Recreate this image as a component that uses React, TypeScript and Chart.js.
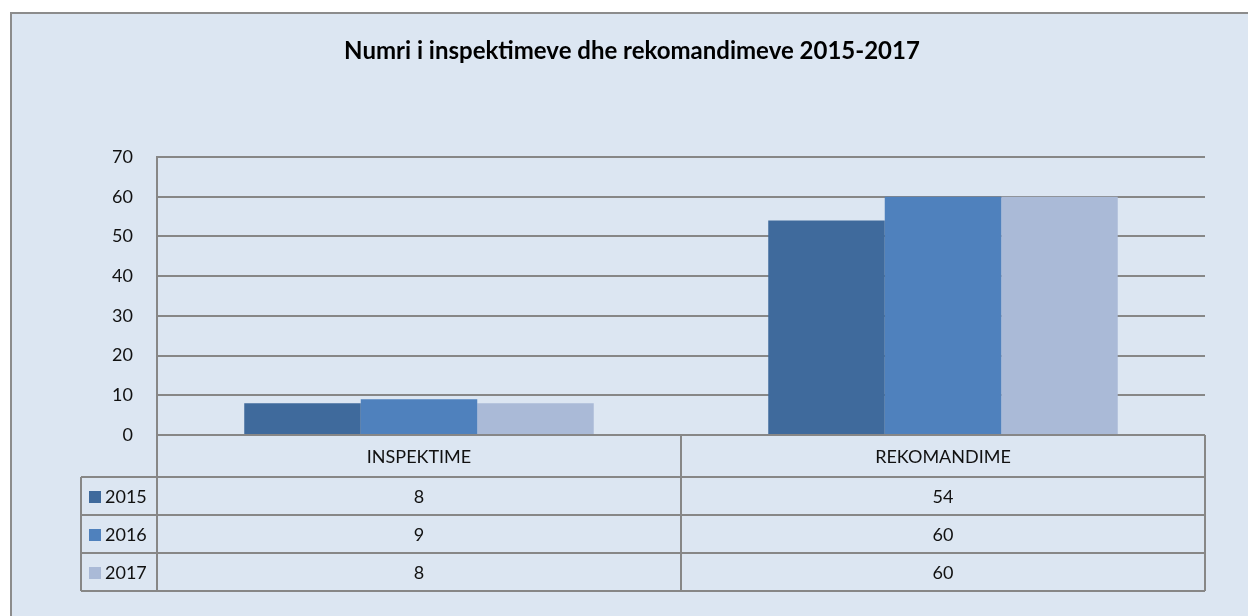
import React, { useEffect, useRef } from "react";
import { Chart, registerables } from "chart.js";

Chart.register(...registerables);

const titleText = "Numri i inspektimeve dhe rekomandimeve 2015-2017";
const categories = ["INSPEKTIME", "REKOMANDIME"];
const seriesLabels = ["2015", "2016", "2017"];
const values2015 = [8, 54];
const values2016 = [9, 60];
const values2017 = [8, 60];
const seriesValues = [values2015, values2016, values2017];
const seriesColors = ["#3f6a9c", "#4f81bd", "#aabad7"];
const yMin = 0;
const yMax = 70;
const yStep = 10;

const W = 1248;
const H = 616;
const BG = "#dce6f2";
const LINE = "#878787";
const FONT = "Lato, 'Open Sans', sans-serif";

const backgroundPlugin = {
  id: "bgFrame",
  beforeDraw(chart: any) {
    const ctx = chart.ctx;
    ctx.save();
    ctx.fillStyle = "#ffffff";
    ctx.fillRect(0, 0, chart.width, chart.height);
    ctx.fillStyle = BG;
    ctx.fillRect(10, 12, chart.width - 10, chart.height - 12);
    ctx.strokeStyle = "#8c8c8c";
    ctx.lineWidth = 2;
    ctx.beginPath();
    ctx.moveTo(11, chart.height);
    ctx.lineTo(11, 13);
    ctx.lineTo(chart.width, 13);
    ctx.stroke();
    ctx.restore();
  },
};

const tablePlugin = {
  id: "dataTable",
  afterDraw(chart: any) {
    const ctx = chart.ctx;
    const { left, right, bottom } = chart.chartArea;
    const xs = chart.scales.x;
    const centers = categories.map((_, i) => xs.getPixelForValue(i));
    const bounds: number[] = [left];
    for (let i = 0; i < centers.length - 1; i++) bounds.push(Math.round((centers[i] + centers[i + 1]) / 2));
    bounds.push(right);
    const headerH = 42;
    const rowH = 38;
    const labelLeft = 81;
    const rowTops = seriesLabels.map((_, i) => bottom + headerH + i * rowH);
    const tableBottom = bottom + headerH + seriesLabels.length * rowH;

    ctx.save();
    ctx.strokeStyle = LINE;
    ctx.lineWidth = 2;
    ctx.beginPath();
    rowTops.concat([tableBottom]).forEach((y) => {
      ctx.moveTo(labelLeft, y);
      ctx.lineTo(right, y);
    });
    bounds.forEach((x) => {
      ctx.moveTo(x, bottom);
      ctx.lineTo(x, tableBottom);
    });
    ctx.moveTo(labelLeft, rowTops[0]);
    ctx.lineTo(labelLeft, tableBottom);
    ctx.stroke();

    ctx.fillStyle = "#111111";
    ctx.font = `18px ${FONT}`;
    ctx.textAlign = "center";
    ctx.textBaseline = "middle";
    categories.forEach((c, i) => {
      ctx.fillText(c, centers[i], bottom + headerH / 2 + 1);
    });
    seriesLabels.forEach((s, r) => {
      const cy = rowTops[r] + rowH / 2 + 1;
      seriesValues[r].forEach((v, i) => {
        ctx.textAlign = "center";
        ctx.fillText(String(v), centers[i], cy);
      });
      ctx.fillStyle = seriesColors[r];
      ctx.fillRect(89, Math.round(cy - 6), 12, 12);
      ctx.fillStyle = "#111111";
      ctx.textAlign = "left";
      ctx.fillText(s, 105, cy);
    });
    ctx.restore();
  },
};

export default function App() {
  const ref = useRef<HTMLCanvasElement | null>(null);
  useEffect(() => {
    if (!ref.current) return;
    const chart = new Chart(ref.current, {
      type: "bar",
      data: {
        labels: categories,
        datasets: seriesLabels.map((s, i) => ({
          label: s,
          data: seriesValues[i],
          backgroundColor: seriesColors[i],
          borderWidth: 0,
          categoryPercentage: 0.667,
          barPercentage: 1,
          yAxisID: "y",
        })),
      },
      options: {
        animation: false,
        responsive: false,
        devicePixelRatio: 1,
        layout: { padding: { top: 37, left: 16, right: 0, bottom: H - 435 } },
        plugins: {
          legend: { display: false },
          tooltip: { enabled: false },
          title: {
            display: true,
            text: titleText,
            color: "#000000",
            font: { family: FONT, size: 24, weight: "bold", lineHeight: "28px" },
            padding: { top: 0, bottom: 92 },
          },
        },
        scales: {
          x: { display: false },
          y: {
            min: yMin,
            max: yMax,
            afterFit: (scale: any) => {
              scale.width = 157 - 16;
            },
            ticks: {
              stepSize: yStep,
              padding: 24,
              color: "#111111",
              font: { family: FONT, size: 18 },
            },
            grid: { color: LINE, lineWidth: 2, drawTicks: false },
            border: { display: true, color: LINE, width: 2 },
          },
          spacer: {
            type: "linear",
            position: "right",
            display: true,
            afterFit: (scale: any) => {
              scale.width = W - 1205;
            },
            ticks: { display: false },
            grid: { display: false },
            border: { display: false },
          },
        },
      },
      plugins: [backgroundPlugin, tablePlugin],
    });
    return () => chart.destroy();
  }, []);
  return (
    <div style={{ position: "fixed", left: 0, top: 0, width: W, height: H }}>
      <canvas ref={ref} width={W} height={H} style={{ display: "block", width: W, height: H }} />
    </div>
  );
}
